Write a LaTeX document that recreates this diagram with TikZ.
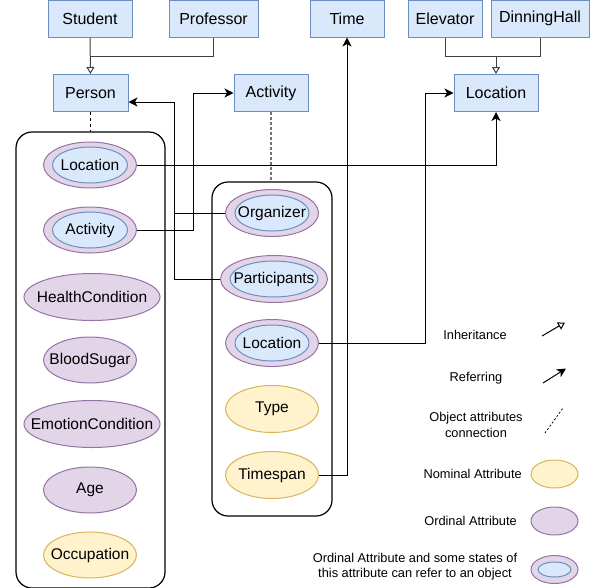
\documentclass[tikz,border=0pt]{standalone}
\usepackage{fontspec}
\setmainfont{Liberation Sans}
\usetikzlibrary{shapes.geometric,arrows.meta,calc}
\definecolor{bfill}{HTML}{DAE8FC}
\definecolor{bline}{HTML}{6C8EBF}
\definecolor{pfill}{HTML}{E1D5E7}
\definecolor{pline}{HTML}{9673A6}
\definecolor{yfill}{HTML}{FFF2CC}
\definecolor{yline}{HTML}{D6B656}
\newcommand{\zw}[1]{\makebox[0pt]{#1}}
\tikzset{
  objbox/.style={draw=bline, fill=bfill, line width=1, rectangle, minimum height=37, inner sep=0, font=\fontsize{16}{18}\selectfont},
  ordinal/.style={draw=pline, fill=pfill, line width=1, ellipse, inner sep=0, minimum width=93, minimum height=46, font=\fontsize{15.5}{18}\selectfont},
  nominal/.style={draw=yline, fill=yfill, line width=1, ellipse, inner sep=0, minimum width=93, minimum height=46, font=\fontsize{15.5}{18}\selectfont},
  innerell/.style={draw=bline, fill=bfill, line width=1, ellipse, inner sep=0, minimum width=75, minimum height=36, font=\fontsize{15.5}{18}\selectfont},
  container/.style={draw=black, line width=1.2, rounded corners=16},
  inh/.style={draw=black!75, line width=1, -{Triangle[open,length=7,width=8]}},
  inhline/.style={draw=black!75, line width=1},
  ref/.style={draw=black, line width=1, -{Stealth[length=9,width=9,inset=2.5]}},
  attrlink/.style={draw=black, line width=0.8, dash pattern=on 3 off 3},
  attrlinkg/.style={draw=black!55, line width=1.2, dash pattern=on 2.5 off 2.5},
  legtext/.style={font=\fontsize{12.8}{15.5}\selectfont, align=center, inner sep=0},
}
\begin{document}
\begin{tikzpicture}[x=1pt,y=-1pt]
\useasboundingbox (0,0) rectangle (597,587);
% containers
\draw[container] (16,132) rectangle (165,588);
\draw[container] (212,182) rectangle (332,516);
% top boxes
\node[objbox, minimum width=84] (student) at (90,18.5) {Student};
\node[objbox, minimum width=89] (prof) at (213.5,18.5) {Professor};
\node[objbox, minimum width=74] (time) at (347,18.5) {Time};
\node[objbox, minimum width=74] (elev) at (445,18.5) {Elevator};
\node[objbox, minimum width=98] (dhall) at (540,18.5) {DinningHall};
\node[objbox, minimum width=75] (person) at (90.5,93) {Person};
\node[objbox, minimum width=74] (act) at (271,93) {Activity};
\node[objbox, minimum width=84] (locbox) at (496,93) {Location};
% person attributes
\node[ordinal] (pLoc) at (90,165) {};
\node[innerell] (pLocIn) at (pLoc) {\zw{Location}};
\node[ordinal] (pAct) at (90,230) {};
\node[innerell] (pActIn) at (pAct) {\zw{Activity}};
\node[ordinal, minimum width=136, minimum height=47] (health) at (92,297) {\zw{HealthCondition}};
\node[ordinal] (blood) at (90,360) {\zw{BloodSugar}};
\node[ordinal, minimum width=136, minimum height=47] (emo) at (92,424) {\zw{EmotionCondition}};
\node[ordinal] (age) at (90,490) {\zw{Age}};
\node[nominal] (occ) at (90,555) {\zw{Occupation}};
% activity attributes
\node[ordinal, minimum height=47] (org) at (272,213) {};
\node[innerell, minimum width=74] (orgIn) at (org) {\zw{Organizer}};
\node[ordinal, minimum width=107, minimum height=47] (part) at (274,279) {};
\node[innerell, minimum width=88] (partIn) at (part) {\zw{Participants}};
\node[ordinal, minimum height=47] (aLoc) at (272,343) {};
\node[innerell, minimum width=74] (aLocIn) at (aLoc) {\zw{Location}};
\node[nominal, minimum height=47] (type) at (272,409) {\zw{Type}};
\node[nominal, minimum height=47] (ts) at (272,475) {\zw{Timespan}};
% inheritance
\coordinate (jP) at (90,56);
\coordinate (jL) at (496,56);
\draw[inhline] (prof.south) |- (jP);
\draw[inh] (student.south) -- (person.north);
\draw[inhline] (elev.south) |- (jL);
\draw[inhline] (dhall.south) |- (jL);
\draw[inh] (jL) -- (locbox.north);
% object attribute connections
\draw[attrlink] (person.south) -- (person.south |- 0,132);
\draw[attrlinkg] (act.south) -- (act.south |- 0,182);
% referring
\coordinate (xAct) at (193,0);
\coordinate (xPer) at (174,0);
\coordinate (xLoc) at (425,0);
\draw[ref] (pLoc.east) -| (locbox.south);
\draw[ref] (pAct.east) -- (pAct.east -| xAct) |- (act.west);
\draw[ref] (org.west) -- (org.west -| xPer) |- ([yshift=-9pt]person.east);
\draw[line width=1] (part.west) -- (part.west -| xPer) -- (org.west -| xPer);
\draw[ref] (aLoc.east) -- (aLoc.east -| xLoc) |- (locbox.west);
\draw[ref] (ts.east) -| (time.south);
% legend
\node[legtext] (lInh) at (475,335) {Inheritance};
\coordinate (lInhA) at (542,336);
\coordinate (lInhB) at (565,322.5);
\draw[inh, draw=black] (lInhA) -- (lInhB);
\node[legtext] (lRef) at (476,378) {Referring};
\coordinate (lRefA) at (543,383);
\coordinate (lRefB) at (566,368.5);
\draw[ref] (lRefA) -- (lRefB);
\node[legtext] (lObj) at (476,425) {Object attributes\\connection};
\coordinate (lObjA) at (545,433);
\coordinate (lObjB) at (563,408);
\draw[draw=black, line width=0.8, dash pattern=on 2 off 2] (lObjA) -- (lObjB);
\node[legtext, anchor=east] (lNom) at (522,474) {Nominal Attribute};
\node[nominal, minimum width=47, minimum height=28] (lNomE) at (554.5,474) {};
\node[legtext, anchor=east] (lOrd) at (517,521) {Ordinal Attribute};
\node[ordinal, minimum width=47, minimum height=28] (lOrdE) at (554.5,521) {};
\node[legtext] (lBoth) at (415,566.5) {Ordinal Attribute and some states of\\this attribute can refer to an object};
\node[ordinal, minimum width=47, minimum height=28] (lBothE) at (554.5,569.5) {};
\node[innerell, minimum width=33, minimum height=15] (lBothI) at (lBothE) {};
\end{tikzpicture}
\end{document}
